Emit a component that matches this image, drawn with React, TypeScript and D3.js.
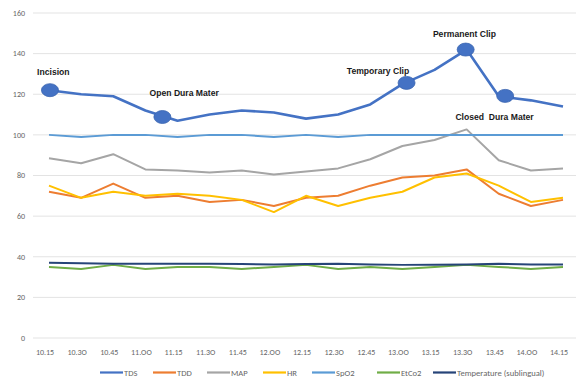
import React from "react";
import * as d3 from "d3";

const categories = ["10.15","10.3O","10.45","11.OO","11.15","11.3O","11.45","12.OO","12.15","12.3O","12.45","13.OO","13.15","13.3O","13.45","14.OO","14.15"];
const yTicks = [0, 20, 40, 60, 80, 100, 120, 140, 160];

const TDS = [122, 120, 119, 112, 107, 110, 112, 111, 108, 110, 115, 125, 132, 142, 119, 117, 114];
const TDD = [72, 69, 76, 69, 70, 67, 68, 65, 69, 70, 75, 79, 80, 83, 71, 65, 68];
const MAP = [88.5, 86, 90.5, 83, 82.5, 81.5, 82.5, 80.5, 82, 83.5, 88, 94.5, 97.5, 102.7, 87.5, 82.5, 83.5];
const HR = [75, 69, 72, 70, 71, 70, 68, 62, 70, 65, 69, 72, 79, 81, 75, 67, 69];
const SpO2 = [100, 99, 100, 100, 99, 100, 100, 99, 100, 99, 100, 100, 100, 100, 100, 100, 100];
const EtCo2 = [35, 34, 36, 34, 35, 35, 34, 35, 36, 34, 35, 34, 35, 36, 35, 34, 35];
const Temperature = [37, 36.8, 36.6, 36.6, 36.5, 36.6, 36.4, 36.2, 36.4, 36.5, 36.2, 36, 36.1, 36.2, 36.6, 36.2, 36.2];

const seriesNames = ["TDS", "TDD", "MAP", "HR", "SpO2", "EtCo2", "Temperature (sublingual)"];
const seriesValues = [TDS, TDD, MAP, HR, SpO2, EtCo2, Temperature];
const seriesColors = ["#4472C4", "#ED7D31", "#A5A5A5", "#FFC000", "#5B9BD5", "#70AD47", "#264478"];

// annotations: label, dot position (category index, value), label position (category index, value)
const annLabels = ["Incision", "Open Dura Mater", "Temporary Clip", "Permanent Clip", "Closed  Dura Mater"];
const annDotIdx = [0.03, 3.53, 11.13, 12.97, 14.2];
const annDotVal = [122, 108.8, 125.6, 142, 119.2];
const annLabelIdx = [-0.37, 3.13, 9.27, 11.95, 12.65];
const annLabelVal = [131.2, 120.8, 131.6, 149.5, 108.6];

export default function App() {
  const W = 576, H = 378;
  const x = d3.scaleLinear().domain([0, categories.length - 1]).range([49, 563]);
  const y = d3.scaleLinear().domain([0, 160]).range([338, 13]);
  const line = d3.line<number>().x((_, i) => x(i)).y((d) => y(d));
  const font = "Carlito, Calibri, 'Liberation Sans', Arial, sans-serif";
  const boldFont = "'Liberation Sans', Arial, sans-serif";

  const legendX = [100, 153, 207, 263, 312, 377, 433];

  return (
    <svg width={W} height={H} style={{ position: "absolute", left: 0, top: 0, background: "#fff" }} fontFamily={font}>
      {yTicks.map((t) => (
        <g key={t}>
          <line x1={33} x2={576} y1={y(t)} y2={y(t)} stroke="#e3e3e3" strokeWidth={1} />
          <text x={25} y={y(t)} dy="0.35em" textAnchor="end" fontSize={8} fill="#666">{t}</text>
        </g>
      ))}
      {categories.map((c, i) => (
        <text key={c} x={x(i) - 4} y={352} dy="0.35em" textAnchor="middle" fontSize={8} fill="#666">{c}</text>
      ))}
      {seriesValues.map((vals, k) => (
        <path key={k} d={line(vals) || ""} fill="none" stroke={seriesColors[k]} strokeWidth={k === 0 ? 2.6 : 2} strokeLinejoin="round" />
      ))}
      {annLabels.map((l, i) => (
        <g key={l}>
          <ellipse cx={x(annDotIdx[i])} cy={y(annDotVal[i])} rx={8.5} ry={6.5} fill="#4472C4" stroke="#3a64b0" strokeWidth={0.8} />
          <text x={x(annLabelIdx[i])} y={y(annLabelVal[i])} dy="0.35em" fontFamily={boldFont} fontSize={8.6} fontWeight="bold" fill="#1a1a1a" style={{ whiteSpace: "pre" }}>{l}</text>
        </g>
      ))}
      {seriesNames.map((n, k) => (
        <g key={n}>
          <line x1={legendX[k]} x2={legendX[k] + 23} y1={372.5} y2={372.5} stroke={seriesColors[k]} strokeWidth={2.2} />
          <text x={legendX[k] + 24} y={372.5} dy="0.35em" fontSize={8.6} fill="#666">{n}</text>
        </g>
      ))}
    </svg>
  );
}
